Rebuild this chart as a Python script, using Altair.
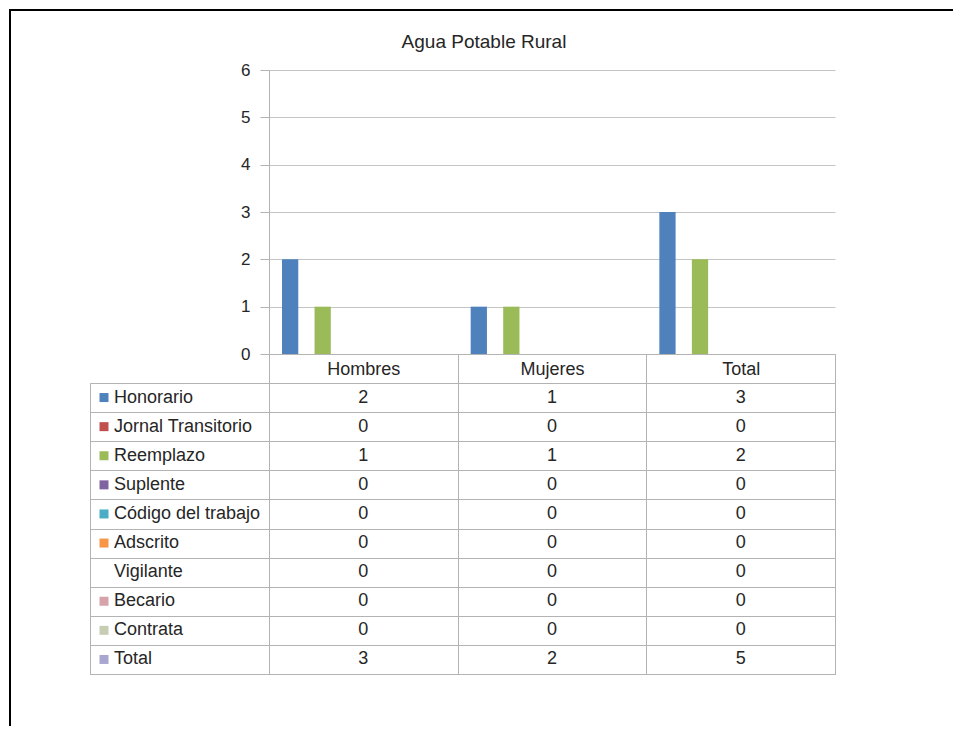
import altair as alt
import pandas as pd

FONT = "Liberation Sans"
TXT = "#262626"
LINE = "#B3B3B3"
GRID = "#C4C4C4"

categorias = ["Hombres", "Mujeres", "Total"]
series = ["Honorario", "Jornal Transitorio", "Reemplazo", "Suplente",
          "Código del trabajo", "Adscrito", "Vigilante", "Becario", "Contrata", "Total"]
honorario = [2, 1, 3]
jornal_transitorio = [0, 0, 0]
reemplazo = [1, 1, 2]
suplente = [0, 0, 0]
codigo_del_trabajo = [0, 0, 0]
adscrito = [0, 0, 0]
vigilante = [0, 0, 0]
becario = [0, 0, 0]
contrata = [0, 0, 0]
total = [3, 2, 5]
colores = ["#4F81BD", "#C0504D", "#9BBB59", "#8064A2", "#4BACC6",
           "#F79646", "#FFFFFF", "#D6A3AB", "#C6CDB2", "#A9A7CF"]
y_ticks = [0, 1, 2, 3, 4, 5, 6]

valores = [honorario, jornal_transitorio, reemplazo, suplente, codigo_del_trabajo,
           adscrito, vigilante, becario, contrata, total]
rows = []
for s, vals in zip(series, valores):
    for c, v in zip(categorias, vals):
        rows.append({"serie": s, "categoria": c, "valor": v})
df = pd.DataFrame(rows)
df_labels = pd.DataFrame({"serie": series, "col": ["etiqueta"] * len(series)})

color_scale = alt.Scale(domain=series, range=colores)

# ---- bar chart ----
bars = alt.Chart(df).transform_filter("datum.serie != 'Total'").mark_bar().encode(
    x=alt.X("categoria:N", title=None,
            scale=alt.Scale(domain=categorias, paddingInner=0, paddingOuter=0),
            axis=alt.Axis(tickBand="extent", tickSize=29, tickColor=LINE, domainColor=LINE,
                          labelFontSize=18, labelColor=TXT, labelFont=FONT, labelAngle=0,
                          labelBaseline="middle", labelPadding=-14, grid=False)),
    xOffset=alt.XOffset("serie:N", scale=alt.Scale(domain=series, paddingInner=0, paddingOuter=0.8)),
    y=alt.Y("valor:Q", title=None, scale=alt.Scale(domain=[0, 6], nice=False),
            axis=alt.Axis(values=y_ticks, grid=True, gridColor=GRID, tickSize=9, tickColor=LINE,
                          domainColor=LINE, labelFontSize=17, labelColor=TXT, labelPadding=10,
                          labelFont=FONT)),
    color=alt.Color("serie:N", scale=color_scale, legend=None),
).properties(
    width=566, height=284,
    title=alt.TitleParams(text="Agua Potable Rural", fontSize=19, font=FONT, fontWeight="normal",
                          color=TXT, anchor="middle", frame="group", dx=-68, offset=9),
    view=alt.ViewBackground(strokeOpacity=0),
)

# ---- frame (decoration) in the top-left spacer ----
one = alt.InlineData(values=[{"k": 1}])
frame_left = alt.Chart(one).mark_rule(color="black", strokeWidth=2, strokeCap="square").encode(
    x=alt.value(-80), y=alt.value(-60), y2=alt.value(655))
frame_top = alt.Chart(one).mark_rule(color="black", strokeWidth=2, strokeCap="square").encode(
    x=alt.value(-80), x2=alt.value(862), y=alt.value(-60))
spacer = alt.layer(frame_left, frame_top).properties(
    width=179, height=284, view=alt.ViewBackground(strokeOpacity=0))

# ---- table: label column ----
band_axis = dict(grid=True, tickBand="extent", labels=False, ticks=False, domain=False,
                 gridColor=LINE, title=None)
lab_base = alt.Chart(df_labels).encode(
    y=alt.Y("serie:N", title=None, scale=alt.Scale(domain=series, paddingInner=0, paddingOuter=0),
            axis=alt.Axis(**band_axis)))
lab_scale = lab_base.mark_rule(opacity=0).encode(
    x=alt.X("col:N", title=None, axis=None, scale=alt.Scale(paddingInner=0, paddingOuter=0)))
lab_text = lab_base.mark_text(align="left", baseline="middle", fontSize=18, font=FONT,
                              color=TXT).encode(x=alt.value(24), text="serie:N")
lab_sw = lab_base.mark_square(size=81, opacity=1).encode(
    x=alt.value(14), color=alt.Color("serie:N", scale=color_scale, legend=None))
labels_chart = alt.layer(lab_scale, lab_text, lab_sw).properties(
    width=179, height=291, view=alt.ViewBackground(stroke=LINE, strokeWidth=1))

# ---- table: values ----
values_chart = alt.Chart(df).mark_text(fontSize=18, font=FONT, color=TXT, baseline="middle").encode(
    x=alt.X("categoria:N", title=None, scale=alt.Scale(domain=categorias, paddingInner=0, paddingOuter=0),
            axis=alt.Axis(**band_axis)),
    y=alt.Y("serie:N", title=None, scale=alt.Scale(domain=series, paddingInner=0, paddingOuter=0),
            axis=alt.Axis(**band_axis)),
    text=alt.Text("valor:Q"),
).properties(width=566, height=291, view=alt.ViewBackground(stroke=LINE, strokeWidth=1))

chart = alt.concat(spacer, bars, labels_chart, values_chart, columns=2,
                   spacing={"row": 29, "column": 0}, bounds="flush", align="each").properties(
    padding=0, background="white"
).configure(font=FONT)

chart.save("out.html", embed_options={"renderer": "svg", "actions": False})
